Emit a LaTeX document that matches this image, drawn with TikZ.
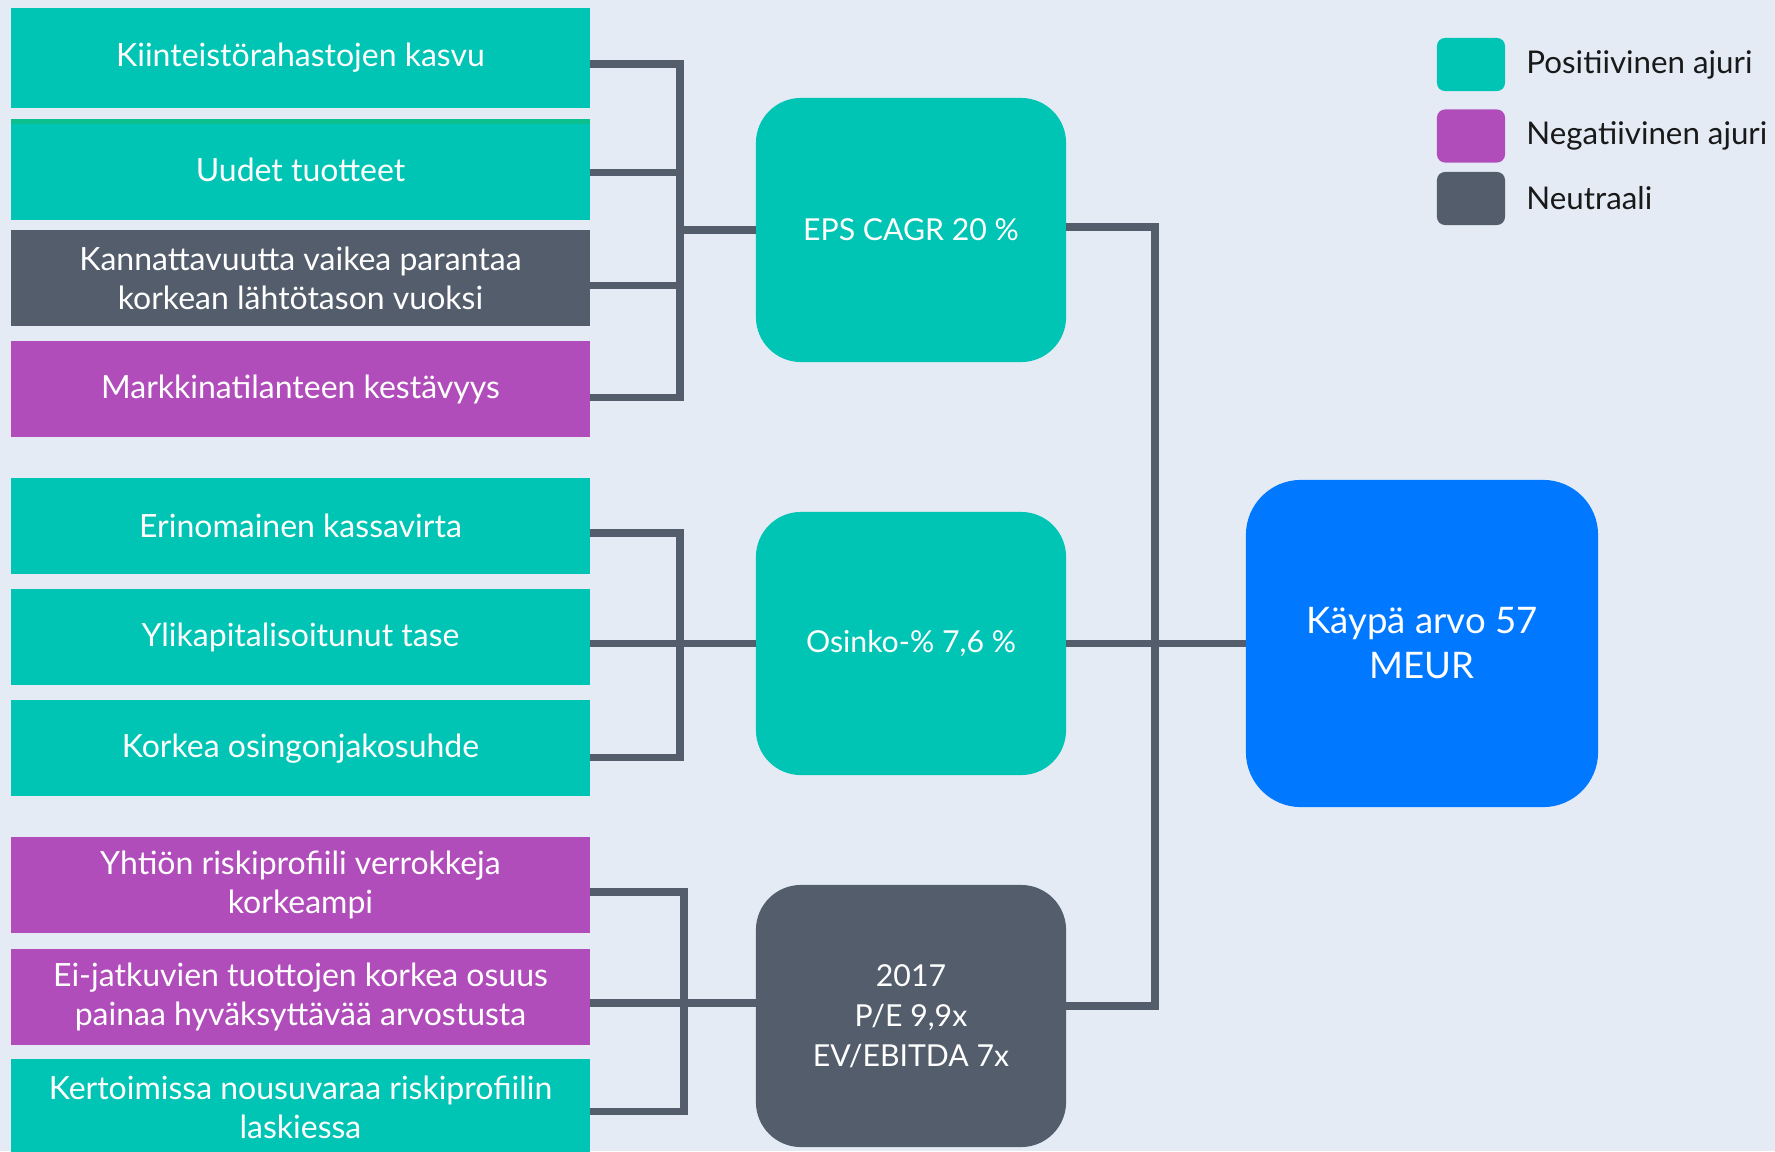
\documentclass[tikz,border=0pt]{standalone}
\usepackage{fontspec}
\setmainfont{Lato}
\usetikzlibrary{positioning,calc}
\definecolor{posCol}{HTML}{00C4B4}
\definecolor{negCol}{HTML}{B14DBA}
\definecolor{neuCol}{HTML}{535D6C}
\definecolor{valCol}{HTML}{0078FF}
\definecolor{bgCol}{HTML}{E4EBF5}
\definecolor{stripCol}{HTML}{0BBF8E}

\begin{document}
\begin{tikzpicture}[
    x=0.01cm, y=-0.01cm,
    font=\fontsize{9.1}{11}\selectfont,
    driver/.style={minimum width=5.79cm, minimum height=0.96cm, inner sep=0pt, outer sep=0pt,
      align=center, text=white},
    posbox/.style={driver, fill=posCol},
    negbox/.style={driver, fill=negCol},
    neubox/.style={driver, fill=neuCol},
    hub/.style={rounded corners=0.45cm, minimum width=3.1cm, minimum height=2.63cm,
      inner sep=0pt, outer sep=0pt, align=center, text=white, font=\fontsize{8.6}{11.3}\selectfont},
    swatch/.style={rounded corners=0.08cm, minimum width=0.68cm, minimum height=0.53cm, inner sep=0pt},
    legtxt/.style={inner sep=0pt, text=black!90, font=\fontsize{8.9}{11}\selectfont},
    wire/.style={line width=2pt, draw=neuCol},
  ]

% Canvas
\fill[bgCol] (0,0) rectangle (1775,1151);
\useasboundingbox (0,0) rectangle (1775,1151);

% Drivers for EPS
\node[posbox, minimum height=1cm] (kasvu) at (300.5,58) {Kiinteistörahastojen kasvu};
\node[posbox, minimum height=1.01cm, below=1.1mm of kasvu] (uudet) {Uudet tuotteet};
\node[neubox, below=1mm of uudet] (kannat) {Kannattavuutta vaikea parantaa\\korkean lähtötason vuoksi};
\node[negbox, below=1.5mm of kannat] (markk) {Markkinatilanteen kestävyys};
\fill[stripCol] (uudet.north west) rectangle ($(uudet.north east)+(0,5)$);

% Drivers for dividend
\node[posbox] (kassa) at (300.5,526) {Erinomainen kassavirta};
\node[posbox, below=1.5mm of kassa] (ylikap) {Ylikapitalisoitunut tase};
\node[posbox, below=1.5mm of ylikap] (osjako) {Korkea osingonjakosuhde};

% Drivers for valuation
\node[negbox] (riski) at (300.5,885) {Yhtiön riskiprofiili verrokkeja\\korkeampi};
\node[negbox, below=1.6mm of riski] (eijatk) {Ei-jatkuvien tuottojen korkea osuus\\painaa hyväksyttävää arvostusta};
\node[posbox, below=1.4mm of eijatk] (kertoim) {Kertoimissa nousuvaraa riskiprofiilin\\laskiessa};

% Middle column
\node[hub, fill=posCol, minimum height=2.64cm] (eps) at (911,230) {EPS CAGR 20 \%};
\node[hub, fill=posCol] (osinko) at (911,643.5) {Osinko-\% 7,6 \%};
\node[hub, fill=neuCol, minimum height=2.62cm] (arvost) at (911,1016) {2017\\P/E 9,9x\\EV/EBITDA 7x};

% Fair value
\node[hub, fill=valCol, rounded corners=0.55cm, minimum width=3.52cm, minimum height=3.27cm,
      font=\fontsize{10.4}{12.8}\selectfont] (kaypa) at (1422,643.5) {Käypä arvo 57\\MEUR};

% Legend
\node[swatch, fill=posCol] (legPos) at (1471,64.5) {};
\node[swatch, fill=negCol] (legNeg) at (1471,136) {};
\node[swatch, fill=neuCol] (legNeu) at (1471,198.5) {};
\node[legtxt, right=2mm of legPos] (legPosTxt) {Positiivinen ajuri};
\node[legtxt, right=2mm of legNeg] (legNegTxt) {Negatiivinen ajuri};
\node[legtxt, right=2mm of legNeu] (legNeuTxt) {Neutraali};

% Brackets -- EPS
\coordinate (j1) at (680,230);
\draw[wire] ($(kasvu.east)+(0,6)$) -| (j1) |- ($(markk.east)+(0,8)$);
\draw[wire] ($(uudet.east)+(0,3)$) coordinate (s) -- (s -| j1);
\draw[wire] ($(kannat.east)+(0,7)$) coordinate (s) -- (s -| j1);
\draw[wire] (j1) -- (eps.west);

% Brackets -- dividend
\coordinate (j2) at (680,643.5);
\draw[wire] ($(kassa.east)+(0,7)$) -| (j2) |- ($(osjako.east)+(0,9)$);
\draw[wire] (ylikap.east |- osinko.west) -- (osinko.west);

% Brackets -- valuation
\coordinate (j3) at (684,1003);
\draw[wire] ($(riski.east)+(0,7)$) -| (j3) |- ($(kertoim.east)+(0,4)$);
\draw[wire] (eijatk.east |- j3) -- (arvost.west |- j3);

% Right bus to fair value
\coordinate (r1) at (1155,227);
\coordinate (r3) at (1155,1006);
\draw[wire] (eps.east |- r1) -| (r3) -- (arvost.east |- r3);
\draw[wire] (osinko.east) -- (kaypa.west);

\end{tikzpicture}
\end{document}
